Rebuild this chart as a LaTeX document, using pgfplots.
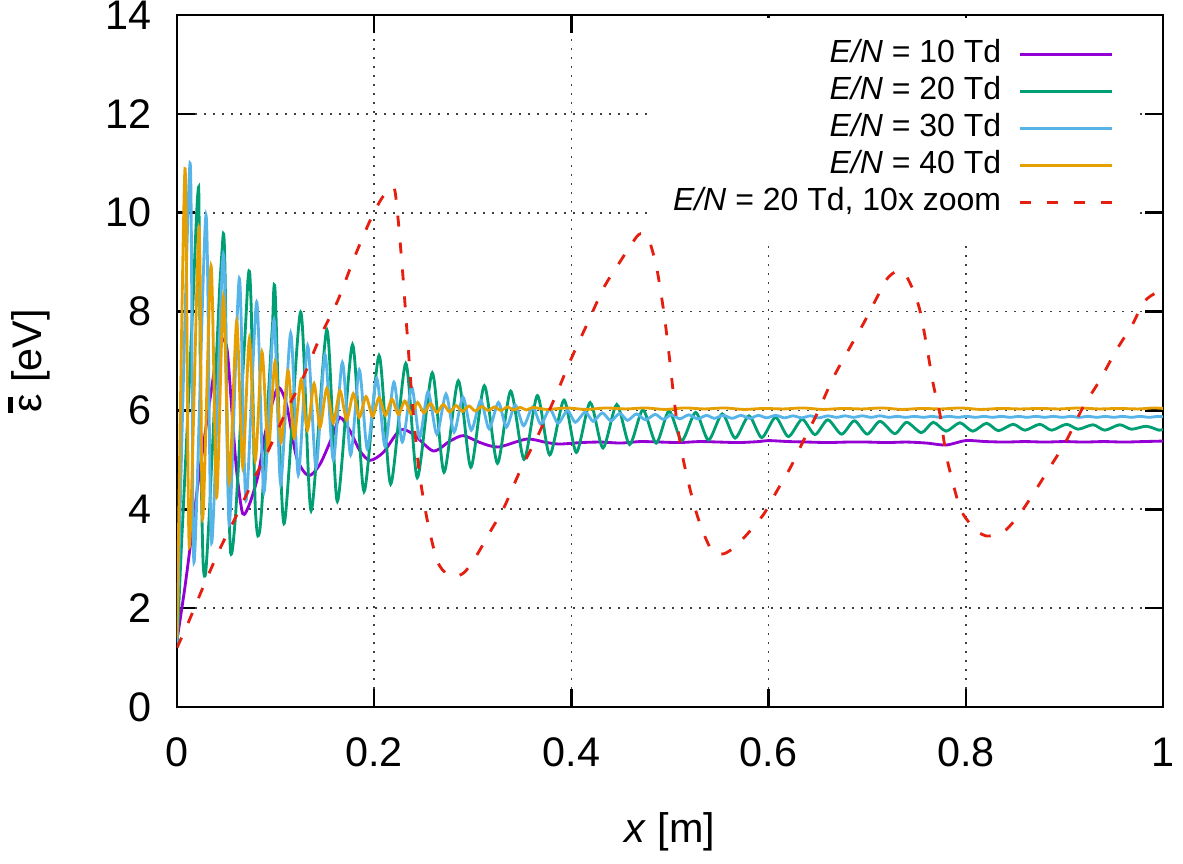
\documentclass[border=0pt]{standalone}
\usepackage{fontspec}
\setmainfont{Liberation Sans}
\usepackage{pgfplots}
\pgfplotsset{compat=1.18}

\definecolor{gpviolet}{HTML}{9400D3}
\definecolor{gpgreen}{HTML}{009E73}
\definecolor{gpblue}{HTML}{56B4E9}
\definecolor{gporange}{HTML}{E69F00}
\definecolor{gpred}{HTML}{E51E10}

\begin{document}
\begin{tikzpicture}
\begin{axis}[
    scale only axis,
    width=295.8pt, height=207.6pt,
    xmin=0, xmax=1, ymin=0, ymax=14,
    xtick={0,0.2,0.4,0.6,0.8,1},
    ytick={0,2,4,6,8,10,12,14},
    /pgf/number format/assume math mode=true,
    tick label style={font=\fontsize{12.4}{14}\selectfont},
    label style={font=\fontsize{12.4}{14}\selectfont},
    xticklabel style={yshift=-5.8pt},
    yticklabel style={xshift=-4pt},
    tick align=inside,
    major tick length=5.4pt,
    every tick/.style={black, line width=0.75pt},
    axis line style={line width=0.75pt},
    grid=major,
    major grid style={black!75, line width=0.5pt, dash pattern=on 0.5pt off 2.2pt},
    xlabel={\textit{x} [m]},
    ylabel={\makebox[0pt][l]{\raisebox{0.7em}{\rule{0.37em}{0.12em}}}ε [eV]},
    xlabel style={at={([yshift=-37.5pt]axis description cs:0.5,0)}, anchor=center},
    ylabel style={at={([xshift=-44.4pt]axis description cs:0,0.5)}, anchor=center},
    legend cell align=right,
    legend plot pos=right,
    legend style={draw=none, fill=white, inner sep=6pt,
        at={(0.9706,0.997)}, anchor=north east,
        font=\fontsize{9.6}{11}\selectfont,
        row sep=1.1pt, column sep=4.6pt,
        nodes={inner sep=0.5pt, text height=7pt, text depth=2pt}},
    legend image code/.code={\draw[#1] (0pt,0pt) -- (27.7pt,0pt);},
    every axis plot/.append style={line width=0.85pt, smooth, tension=0.45},
]

% E/N = 10 Td
\addplot[gpviolet] coordinates {
(0,1.35) (0.008,2.42) (0.015,3.5) (0.0216,4.57) (0.0284,5.52) (0.0352,6.46)
(0.041,7.2) (0.046,7.45) (0.051,7.2) (0.056,5.9) (0.0605,4.77) (0.0667,3.91)
(0.074,4.13) (0.0825,4.71) (0.0886,5.45) (0.096,6.1) (0.1028,6.47) (0.111,6.13)
(0.1213,5.05) (0.1332,4.68) (0.145,4.91) (0.1585,5.52) (0.1653,5.86) (0.1754,5.59)
(0.1856,5.18) (0.1957,4.99) (0.2092,5.15) (0.226,5.60) (0.2396,5.52) (0.2599,5.18)
(0.2768,5.38) (0.2904,5.49) (0.3073,5.35) (0.3259,5.26) (0.3546,5.42) (0.375,5.35)
(0.3885,5.32) (0.41,5.35) (0.43,5.36) (0.45,5.34) (0.47,5.37) (0.49,5.36)
(0.51,5.35) (0.53,5.37) (0.55,5.36) (0.57,5.35) (0.59,5.37) (0.60,5.39)
(0.62,5.37) (0.64,5.36) (0.66,5.35) (0.68,5.36) (0.70,5.36) (0.72,5.35)
(0.74,5.36) (0.76,5.34) (0.78,5.30) (0.80,5.39) (0.82,5.37) (0.84,5.36)
(0.86,5.37) (0.88,5.36) (0.90,5.37) (0.92,5.36) (0.94,5.37) (0.96,5.36)
(0.98,5.37) (1.0,5.38)
};
\addlegendentry{\textit{E/N} = 10 Td}

% E/N = 20 Td
\addplot[gpgreen] coordinates {
(0,1.2) (0.00115,1.71) (0.0027,2.45) (0.0044,3.22) (0.0061,3.90) (0.0077,4.57)
(0.0094,5.25) (0.0111,5.99) (0.0128,6.67) (0.0145,7.48) (0.0163,8.22) (0.018,9.10)
(0.0196,9.85) (0.0208,10.3) (0.02196,10.52) (0.02236,10.0) (0.02287,8.83) (0.02337,7.48)
(0.02388,6.13) (0.02455,4.78) (0.0254,3.76) (0.0264,2.95) (0.02742,2.68) (0.02843,2.65)
(0.02927,2.75) (0.03046,3.09) (0.0318,3.56) (0.03315,4.03) (0.0348,4.78) (0.0365,5.45)
(0.0382,6.20) (0.0399,7.01) (0.0416,7.75) (0.0433,8.49) (0.045,9.03) (0.04665,9.52)
(0.04732,9.57) (0.048,9.37) (0.0487,8.83) (0.0494,7.95) (0.0499,7.14) (0.05039,6.26)
(0.0509,5.5) (0.0514,4.95) (0.0521,4.35) (0.0528,3.85) (0.0536,3.42) (0.0544,3.12)
(0.05545,3.10) (0.05646,3.22) (0.0578,3.49) (0.0595,3.90) (0.06084,4.37) (0.0622,4.84)
(0.06354,5.39) (0.0649,5.93) (0.06658,6.67) (0.06826,7.28) (0.0696,7.75) (0.071,8.29)
(0.072,8.66) (0.073,8.82) (0.07383,8.76) (0.07467,8.43) (0.07535,8.02) (0.076,7.34)
(0.0767,6.53) (0.07737,5.93) (0.078,5.11) (0.07872,4.51) (0.0794,4.03) (0.08007,3.80)
(0.0811,3.56) (0.08209,3.46) (0.0831,3.49) (0.08411,3.59) (0.08546,3.90) (0.0868,4.30)
(0.0885,4.84) (0.0902,5.39) (0.09187,6.06) (0.09356,6.60) (0.09524,7.21) (0.09693,7.75)
(0.0995,8.41) (0.1085,3.71) (0.1254,7.99) (0.136,3.97) (0.152,7.63) (0.1626,4.16)
(0.178,7.33) (0.1897,4.36) (0.2049,7.11) (0.2167,4.51) (0.232,6.95) (0.2437,4.64)
(0.2589,6.76) (0.2708,4.75) (0.2853,6.60) (0.298,4.85) (0.3117,6.50) (0.325,4.93)
(0.3384,6.39) (0.352,5.01) (0.3655,6.30) (0.378,5.10) (0.3925,6.21) (0.405,5.15)
(0.419,6.16) (0.432,5.24) (0.446,6.12) (0.459,5.31) (0.4725,6.01) (0.486,5.34)
(0.499,5.99) (0.512,5.39) (0.526,5.96) (0.539,5.40) (0.553,5.93) (0.566,5.44)
(0.580,5.89) (0.593,5.45) (0.607,5.86) (0.620,5.47) (0.634,5.82) (0.647,5.51)
(0.660,5.81) (0.674,5.52) (0.687,5.79) (0.700,5.52) (0.713,5.78) (0.728,5.53)
(0.740,5.76) (0.755,5.55) (0.767,5.76) (0.780,5.58) (0.794,5.75) (0.807,5.58)
(0.821,5.74) (0.833,5.59) (0.848,5.72) (0.860,5.60) (0.875,5.72) (0.887,5.60)
(0.902,5.72) (0.914,5.62) (0.929,5.71) (0.941,5.60) (0.956,5.71) (0.968,5.62)
(0.983,5.68) (0.996,5.60) (1.0,5.62)
};
\addlegendentry{\textit{E/N} = 20 Td}

% E/N = 30 Td
\addplot[gpblue] coordinates {
(0,1.3) (0.0132,11.0) (0.0172,2.93) (0.0294,9.95) (0.0351,3.32) (0.047,9.16)
(0.053,3.70) (0.0632,8.67) (0.070,4.18) (0.0808,8.19) (0.0882,4.35) (0.0984,7.83)
(0.1051,4.52) (0.1153,7.56) (0.123,4.70) (0.1325,7.31) (0.141,4.85) (0.1501,7.13)
(0.1585,5.00) (0.1677,6.97) (0.1761,5.10) (0.1849,6.82) (0.193,5.22) (0.2025,6.65)
(0.211,5.27) (0.220,6.57) (0.2285,5.36) (0.238,6.47) (0.246,5.45) (0.2546,6.38)
(0.2635,5.52) (0.2728,6.33) (0.281,5.56) (0.290,6.27) (0.2985,5.60) (0.308,6.20)
(0.3165,5.63) (0.326,6.16) (0.334,5.66) (0.343,6.11) (0.3515,5.69) (0.3607,6.07)
(0.369,5.72) (0.378,6.03) (0.3865,5.74) (0.396,6.00) (0.404,5.76) (0.414,5.97)
(0.422,5.78) (0.4313,5.95) (0.440,5.79) (0.449,5.94) (0.457,5.80) (0.466,5.93)
(0.475,5.81) (0.485,5.92) (0.493,5.82) (0.5016,5.91) (0.510,5.83) (0.519,5.91)
(0.528,5.83) (0.537,5.90) (0.545,5.84) (0.554,5.90) (0.563,5.84) (0.572,5.90)
(0.581,5.84) (0.5896,5.90) (0.598,5.85) (0.6072,5.90) (0.616,5.85) (0.6248,5.89)
(0.6336,5.85) (0.6424,5.89) (0.651,5.85) (0.660,5.89) (0.669,5.86) (0.6776,5.89)
(0.686,5.86) (0.6952,5.89) (0.704,5.86) (0.7128,5.89) (0.722,5.86) (0.7304,5.88)
(0.739,5.86) (0.748,5.88) (0.757,5.86) (0.7656,5.88) (0.774,5.86) (0.7832,5.88)
(0.792,5.86) (0.8008,5.88) (0.81,5.86) (0.8184,5.88) (0.827,5.86) (0.836,5.88)
(0.845,5.86) (0.8536,5.88) (0.862,5.86) (0.8712,5.88) (0.88,5.86) (0.8888,5.88)
(0.898,5.86) (0.9064,5.88) (0.915,5.86) (0.924,5.88) (0.933,5.86) (0.9416,5.88)
(0.950,5.86) (0.9592,5.88) (0.968,5.86) (0.9768,5.88) (0.986,5.86) (0.9944,5.88)
(1.0,5.87)
};
\addlegendentry{\textit{E/N} = 30 Td}

% E/N = 40 Td
\addplot[gporange] coordinates {
(0,1.4) (0.0081,10.89) (0.0125,3.24) (0.0223,9.68) (0.026,3.81) (0.0345,8.93)
(0.0402,4.25) (0.047,8.29) (0.053,4.55) (0.0605,7.79) (0.0666,4.86) (0.0734,7.45)
(0.0794,4.99) (0.0862,7.18) (0.0926,5.19) (0.0994,6.98) (0.1055,5.36) (0.1126,6.80)
(0.1187,5.45) (0.1258,6.62) (0.1322,5.60) (0.139,6.54) (0.145,5.66) (0.1518,6.44)
(0.1585,5.75) (0.1653,6.40) (0.172,5.81) (0.1788,6.34) (0.1849,5.86) (0.1917,6.28)
(0.1984,5.88) (0.2049,6.26) (0.2115,5.90) (0.218,6.23) (0.2245,5.92) (0.231,6.19)
(0.2375,5.93) (0.244,6.16) (0.2505,5.95) (0.257,6.14) (0.2635,5.96) (0.270,6.12)
(0.2765,5.97) (0.283,6.10) (0.2895,5.98) (0.296,6.09) (0.3025,5.99) (0.309,6.08)
(0.3155,6.00) (0.322,6.07) (0.3285,6.00) (0.335,6.07) (0.3415,6.01) (0.348,6.06)
(0.3545,6.01) (0.361,6.06) (0.375,6.02) (0.395,6.05) (0.415,6.02) (0.435,6.05)
(0.455,6.03) (0.475,6.05) (0.495,6.02) (0.515,6.05) (0.535,6.03) (0.555,6.05)
(0.575,6.02) (0.595,6.04) (0.615,6.03) (0.635,6.05) (0.655,6.02) (0.675,6.04)
(0.695,6.03) (0.715,6.05) (0.735,6.02) (0.755,6.04) (0.775,6.03) (0.795,6.05)
(0.815,6.02) (0.835,6.04) (0.855,6.03) (0.875,6.04) (0.895,6.03) (0.915,6.05)
(0.935,6.03) (0.955,6.04) (0.975,6.03) (0.99,6.05) (1.0,6.04)
};
\addlegendentry{\textit{E/N} = 40 Td}

% E/N = 20 Td, x stretched 10 times
\addplot[gpred, dash pattern=on 3.3pt off 4.8pt] coordinates {
(0,1.2) (0.0115,1.71) (0.027,2.45) (0.044,3.22) (0.061,3.90) (0.077,4.57)
(0.094,5.25) (0.111,5.99) (0.128,6.67) (0.145,7.48) (0.163,8.22) (0.180,9.10)
(0.196,9.85) (0.208,10.3) (0.2196,10.52) (0.2236,10.0) (0.2287,8.83) (0.2337,7.48)
(0.2388,6.13) (0.2455,4.78) (0.254,3.76) (0.264,2.95) (0.2742,2.68) (0.2843,2.65)
(0.2927,2.75) (0.3046,3.09) (0.318,3.56) (0.3315,4.03) (0.348,4.78) (0.365,5.45)
(0.382,6.20) (0.399,7.01) (0.416,7.75) (0.433,8.49) (0.450,9.03) (0.4665,9.52)
(0.4732,9.57) (0.480,9.37) (0.487,8.83) (0.494,7.95) (0.499,7.14) (0.5039,6.26)
(0.509,5.5) (0.514,4.95) (0.521,4.35) (0.528,3.85) (0.536,3.42) (0.544,3.12)
(0.5545,3.10) (0.5646,3.22) (0.578,3.49) (0.595,3.90) (0.6084,4.37) (0.622,4.84)
(0.6354,5.39) (0.649,5.93) (0.6658,6.67) (0.6826,7.28) (0.696,7.75) (0.710,8.29)
(0.720,8.66) (0.730,8.82) (0.7383,8.76) (0.7467,8.43) (0.7535,8.02) (0.760,7.34)
(0.767,6.53) (0.7737,5.93) (0.780,5.11) (0.7872,4.51) (0.794,4.03) (0.8007,3.80)
(0.811,3.56) (0.8209,3.46) (0.831,3.49) (0.8411,3.59) (0.8546,3.90) (0.868,4.30)
(0.885,4.84) (0.902,5.39) (0.9187,6.06) (0.9356,6.60) (0.9524,7.21) (0.9693,7.75)
(0.9794,8.16) (0.9878,8.32) (1.0,8.45)
};
\addlegendentry{\textit{E/N} = 20 Td, 10x zoom}

\end{axis}
\pgfresetboundingbox
\path (current axis.south west) ++(-53.1pt,-46.8pt) coordinate (bbl);
\path (current axis.north east) ++(6pt,4.5pt) coordinate (btr);
\useasboundingbox (bbl) rectangle (btr);
\end{tikzpicture}
\end{document}
